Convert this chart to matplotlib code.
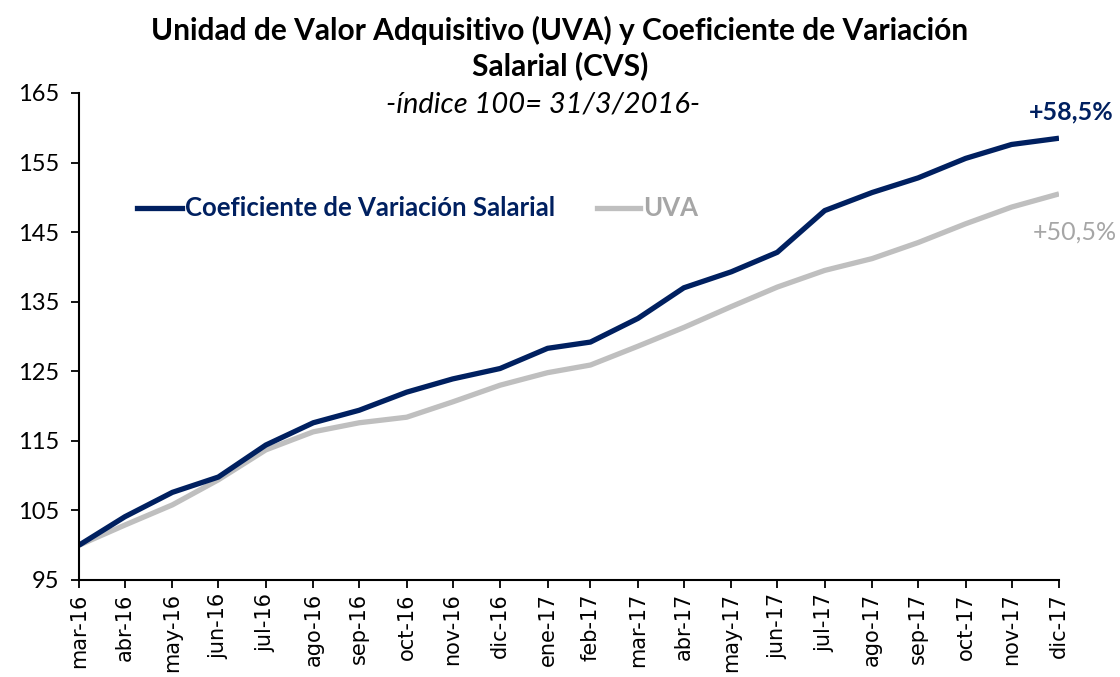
import matplotlib
matplotlib.use("Agg")
import matplotlib.pyplot as plt
import pandas as pd

dates = pd.to_datetime([
    "2016-03-31", "2016-04-30", "2016-05-31", "2016-06-30", "2016-07-31",
    "2016-08-31", "2016-09-30", "2016-10-31", "2016-11-30", "2016-12-31",
    "2017-01-31", "2017-02-28", "2017-03-31", "2017-04-30", "2017-05-31",
    "2017-06-30", "2017-07-31", "2017-08-31", "2017-09-30", "2017-10-31",
    "2017-11-30", "2017-12-31"])
tick_labels = ["mar-16", "abr-16", "may-16", "jun-16", "jul-16", "ago-16", "sep-16",
               "oct-16", "nov-16", "dic-16", "ene-17", "feb-17", "mar-17", "abr-17",
               "may-17", "jun-17", "jul-17", "ago-17", "sep-17", "oct-17", "nov-17",
               "dic-17"]
cvs = [100.0, 104.1, 107.6, 109.8, 114.4, 117.6, 119.4, 122.0, 123.9, 125.4,
       128.3, 129.2, 132.6, 137.0, 139.3, 142.1, 148.1, 150.7, 152.8, 155.6,
       157.6, 158.5]
uva = [100.0, 102.9, 105.8, 109.4, 113.7, 116.3, 117.6, 118.4, 120.6, 123.0,
       124.8, 125.9, 128.6, 131.3, 134.3, 137.1, 139.5, 141.2, 143.5, 146.2,
       148.6, 150.5]
yticks = [95, 105, 115, 125, 135, 145, 155, 165]

navy = "#002060"
gray = "#BFBFBF"
font = "Lato"

fig = plt.figure(figsize=(11.2, 6.77), dpi=100)
ax = fig.add_axes([79/1120, 1-580/677, 980/1120, 487/677])

ax.plot(dates, uva, color=gray, lw=3.8, solid_capstyle="butt")
ax.plot(dates, cvs, color=navy, lw=3.8, solid_capstyle="butt")

ax.set_xlim(dates[0], dates[-1])
ax.set_ylim(95, 165)
ax.set_yticks(yticks)
ax.set_yticklabels([str(v) for v in yticks], fontname=font, fontsize=17)
ax.set_xticks(dates)
ax.set_xticklabels(tick_labels, rotation=90, fontsize=15, fontname="DejaVu Sans")
for s in ["top", "right"]:
    ax.spines[s].set_visible(False)
for s in ["left", "bottom"]:
    ax.spines[s].set_linewidth(1.5)
    ax.spines[s].set_color("black")
ax.tick_params(axis="both", direction="out", length=6, width=1.3, colors="black")
ax.tick_params(axis="y", pad=8)

fig.text(560/1120, 1-30/677, "Unidad de Valor Adquisitivo (UVA) y Coeficiente de Variación",
         ha="center", va="center", fontsize=21.5, fontweight="bold", fontname=font)
fig.text(560/1120, 1-66/677, "Salarial (CVS)", ha="center", va="center",
         fontsize=21.5, fontweight="bold", fontname=font)
fig.text(543/1120, 1-105/677, "-índice 100= 31/3/2016-", ha="center", va="center",
         fontsize=21, fontstyle="italic", fontname=font)

# legend
fig.add_artist(plt.Line2D([137/1120, 182/1120], [1-208/677, 1-208/677],
                          color=navy, lw=3.8, transform=fig.transFigure))
fig.text(185/1120, 1-208/677, "Coeficiente de Variación Salarial", ha="left", va="center",
         fontsize=18.5, fontweight="bold", color=navy, fontname=font)
fig.add_artist(plt.Line2D([597/1120, 640/1120], [1-208/677, 1-208/677],
                          color=gray, lw=3.8, transform=fig.transFigure))
fig.text(643/1120, 1-208/677, "UVA", ha="left", va="center",
         fontsize=18.5, fontweight="bold", color="#A6A6A6", fontname=font)

fig.text(1071/1120, 1-112/677, "+58,5%", ha="center", va="center",
         fontsize=18, fontweight="bold", color=navy, fontname=font)
fig.text(1075/1120, 1-232/677, "+50,5%", ha="center", va="center",
         fontsize=18, color="#A6A6A6", fontname=font)

fig.savefig("out.png", dpi=100, facecolor="white")
